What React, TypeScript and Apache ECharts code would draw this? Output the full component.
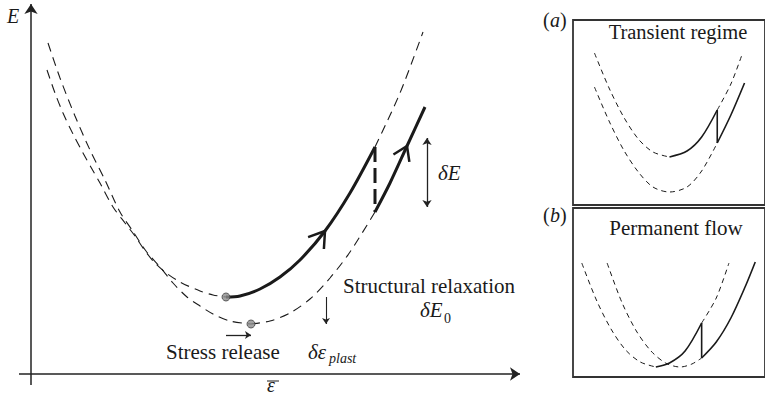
import React, { useEffect, useRef } from "react";
import * as echarts from "echarts";

type P = [number, number];

// ---- main panel: energy E versus mean strain (units) ----
// upper (stressed) basin, minimum where structural relaxation starts
const upperLeft: P[] = [[16, 304], [24, 281], [32, 261], [42, 240], [52, 221], [61, 205], [69, 191], [82, 167], [94, 151], [104, 138], [112, 126], [123, 112], [134, 102], [149, 92], [169, 83], [182, 79], [195, 77]];
const upperRise: P[] = [[195, 77], [209, 78], [229, 85], [249, 97], [269, 114], [294, 143], [319, 181], [344, 227]];
const upperTail: P[] = [[344, 227], [369, 281], [392, 342]];
// lower (relaxed) basin
const lowerLeft: P[] = [[17, 331], [29, 296], [44, 258], [59, 224], [74, 194], [89, 162], [101, 144], [115, 123], [129, 107], [142, 91], [156, 77], [169, 68], [182, 60], [199, 53], [220, 50]];
const lowerRight: P[] = [[220, 50], [239, 53], [259, 61], [279, 75], [299, 96], [319, 122], [344, 162]];
const lowerRise: P[] = [[344, 162], [359, 191], [376, 228], [394, 267]];

const stressArrowE = 39;
const plastArrowEps = 295;
const dEArrowEps = 396;
const dEArrowRange: P = [236, 167];
const xAxisExtent: P = [-12, 489];
const yAxisExtent: P = [-11, 370];

// ---- panel (a): transient regime ----
const aUpperLeft: P[] = [[22, 152], [37, 117], [52, 88], [67, 66], [82, 53], [99, 48]];
const aUpperRise: P[] = [[99, 48], [117, 54], [132, 68], [148, 95]];
const aUpperTail: P[] = [[148, 95], [162, 121], [174, 152]];
const aLowerDash: P[] = [[22, 118], [37, 84], [52, 55], [67, 33], [82, 18], [99, 13], [117, 18], [132, 34], [148, 62]];
const aLowerRise: P[] = [[148, 62], [162, 90], [176, 122]];

// ---- panel (b): permanent flow ----
const bLeftDash: P[] = [[9, 114], [24, 77], [39, 48], [54, 27], [69, 15], [85, 10]];
const bLeftRise: P[] = [[85, 10], [99, 14], [115, 26], [132, 54]];
const bLeftTail: P[] = [[132, 54], [147, 79], [160, 114]];
const bRightDash: P[] = [[35, 114], [50, 75], [65, 46], [80, 26], [95, 14], [110, 10], [122, 13], [132, 19]];
const bRightRise: P[] = [[132, 19], [147, 35], [162, 59], [177, 91], [187, 115]];

const SERIF = "Liberation Serif";
const INK = "#1a1a1a";

function chevron(curve: P[], i: number, len: number, half: number): P[] {
  const [x0, y0] = curve[i - 1];
  const [x1, y1] = curve[i + 1];
  const d = Math.hypot(x1 - x0, y1 - y0);
  const bx = -(x1 - x0) / d;
  const by = -(y1 - y0) / d;
  const tip = curve[i];
  const wing = (a: number): P => {
    const c = Math.cos(a);
    const s = Math.sin(a);
    return [tip[0] + len * (bx * c - by * s), tip[1] + len * (bx * s + by * c)];
  };
  return [wing(half), tip, wing(-half)];
}

function line(data: P[], grid: number, kind: "dash" | "bold" | "thinDash" | "thin" | "boldDash" | "chev", smooth = 0.3) {
  const styles: Record<string, any> = {
    dash: { color: INK, width: 1.1, type: [9, 6] },
    bold: { color: INK, width: 3 },
    boldDash: { color: INK, width: 3, type: [15, 6] },
    thinDash: { color: INK, width: 1, type: [5, 4] },
    thin: { color: INK, width: 1.6 },
    chev: { color: INK, width: 2.5 },
  };
  return {
    type: "line",
    xAxisIndex: grid,
    yAxisIndex: grid,
    data,
    showSymbol: false,
    symbol: "none",
    smooth,
    silent: true,
    clip: false,
    lineStyle: styles[kind],
    z: kind === "bold" || kind === "chev" ? 4 : 3,
  };
}

function arrows(coords: P[][], sym: string[], size: number, width: number) {
  return {
    type: "lines",
    coordinateSystem: "cartesian2d",
    xAxisIndex: 0,
    yAxisIndex: 0,
    clip: false,
    silent: true,
    symbol: sym,
    symbolSize: size,
    lineStyle: { color: "#222", width, opacity: 1, curveness: 0 },
    itemStyle: { color: "#222" },
    data: coords.map((c) => ({ coords: c })),
    z: 5,
  };
}

function txt(text: string, x: number, y: number, size: number, italic = false, align = "left") {
  return {
    type: "text",
    x,
    y,
    silent: true,
    z: 10,
    style: {
      text,
      fontFamily: SERIF,
      fontSize: size,
      fontStyle: italic ? "italic" : "normal",
      fill: INK,
      align,
      textAlign: align,
      verticalAlign: "middle",
      textVerticalAlign: "middle",
    },
  };
}

export default function App() {
  const ref = useRef<HTMLDivElement>(null);
  useEffect(() => {
    if (!ref.current) return;
    const chart = echarts.init(ref.current, undefined, { renderer: "svg" });
    const upperMin = upperRise[0];
    const lowerMin = lowerRight[0];
    const jumpTop = upperRise[upperRise.length - 1];
    const jumpBottom = lowerRise[0];

    const axisOff = { show: false };
    const option: any = {
      animation: false,
      backgroundColor: "#ffffff",
      textStyle: { fontFamily: SERIF },
      grid: [
        { left: 31, top: 4, width: 490, height: 370, show: false },
        { left: 573, top: 20, width: 197, height: 185, show: true, borderColor: "#333", borderWidth: 1.8, backgroundColor: "transparent" },
        { left: 573, top: 208, width: 197, height: 169, show: true, borderColor: "#333", borderWidth: 1.8, backgroundColor: "transparent" },
      ],
      xAxis: [
        { type: "value", gridIndex: 0, min: 0, max: 490, ...axisOff },
        { type: "value", gridIndex: 1, min: 0, max: 197, ...axisOff },
        { type: "value", gridIndex: 2, min: 0, max: 197, ...axisOff },
      ],
      yAxis: [
        { type: "value", gridIndex: 0, min: 0, max: 370, ...axisOff },
        { type: "value", gridIndex: 1, min: 0, max: 185, ...axisOff },
        { type: "value", gridIndex: 2, min: 0, max: 169, ...axisOff },
      ],
      series: [
        // axes with arrows
        arrows([[[xAxisExtent[0], 0], [xAxisExtent[1], 0]], [[0, yAxisExtent[0]], [0, yAxisExtent[1]]]], ["none", "arrow"], 10, 1.5),
        // main curves
        line(upperLeft, 0, "dash"),
        line(upperRise, 0, "bold"),
        line(upperTail, 0, "dash"),
        line(lowerLeft, 0, "dash"),
        line(lowerRight, 0, "dash"),
        line(lowerRise, 0, "bold"),
        line([jumpTop, jumpBottom], 0, "boldDash", 0),
        line(chevron(upperRise, 5, 18, 0.58), 0, "chev", 0),
        line(chevron(lowerRise, 2, 16, 0.58), 0, "chev", 0),
        {
          type: "scatter",
          xAxisIndex: 0,
          yAxisIndex: 0,
          data: [upperMin, lowerMin],
          symbol: "circle",
          symbolSize: 8,
          silent: true,
          itemStyle: { color: "#8c8c8c", borderColor: "#444", borderWidth: 1 },
          z: 6,
        },
        arrows([[[upperMin[0], stressArrowE], [lowerMin[0], stressArrowE]]], ["none", "arrow"], 6, 1.3),
        arrows([[[plastArrowEps, upperMin[1]], [plastArrowEps, lowerMin[1]]]], ["none", "arrow"], 6, 1.1),
        arrows([[[dEArrowEps, dEArrowRange[0]], [dEArrowEps, dEArrowRange[1]]]], ["arrow", "arrow"], 7, 1.3),
        // panel (a)
        line(aUpperLeft, 1, "thinDash"),
        line(aUpperRise, 1, "thin"),
        line(aUpperTail, 1, "thinDash"),
        line(aLowerDash, 1, "thinDash"),
        line(aLowerRise, 1, "thin"),
        line([aUpperRise[aUpperRise.length - 1], aLowerRise[0]], 1, "thin", 0),
        // panel (b)
        line(bLeftDash, 2, "thinDash"),
        line(bLeftRise, 2, "thin"),
        line(bLeftTail, 2, "thinDash"),
        line(bRightDash, 2, "thinDash"),
        line(bRightRise, 2, "thin"),
        line([bLeftRise[bLeftRise.length - 1], bRightRise[0]], 2, "thin", 0),
      ],
      graphic: [
        txt("E", 7, 16, 20, true),
        txt("ε", 267, 385, 20, true),
        { type: "line", silent: true, shape: { x1: 267, y1: 381, x2: 279, y2: 381 }, style: { stroke: INK, lineWidth: 1 } },
        txt("Structural relaxation", 343, 286, 21),
        txt("δE", 420, 310, 21, true),
        txt("0", 444, 318, 14),
        txt("Stress release", 166, 352, 21),
        txt("δε", 308, 352, 21, true),
        txt("plast", 329, 358, 14, true),
        txt("δE", 438, 173, 21, true),
        txt("(", 543, 20, 20),
        txt("a", 550, 20, 20, true),
        txt(")", 560, 20, 20),
        txt("(", 543, 215, 20),
        txt("b", 550, 215, 20, true),
        txt(")", 560, 215, 20),
        txt("Transient regime", 678, 32, 20.5, false, "center"),
        txt("Permanent flow", 676, 228, 21, false, "center"),
      ],
    };
    chart.setOption(option);
    return () => chart.dispose();
  }, []);
  return <div ref={ref} style={{ position: "absolute", left: 0, top: 0, width: 765, height: 404 }} />;
}
